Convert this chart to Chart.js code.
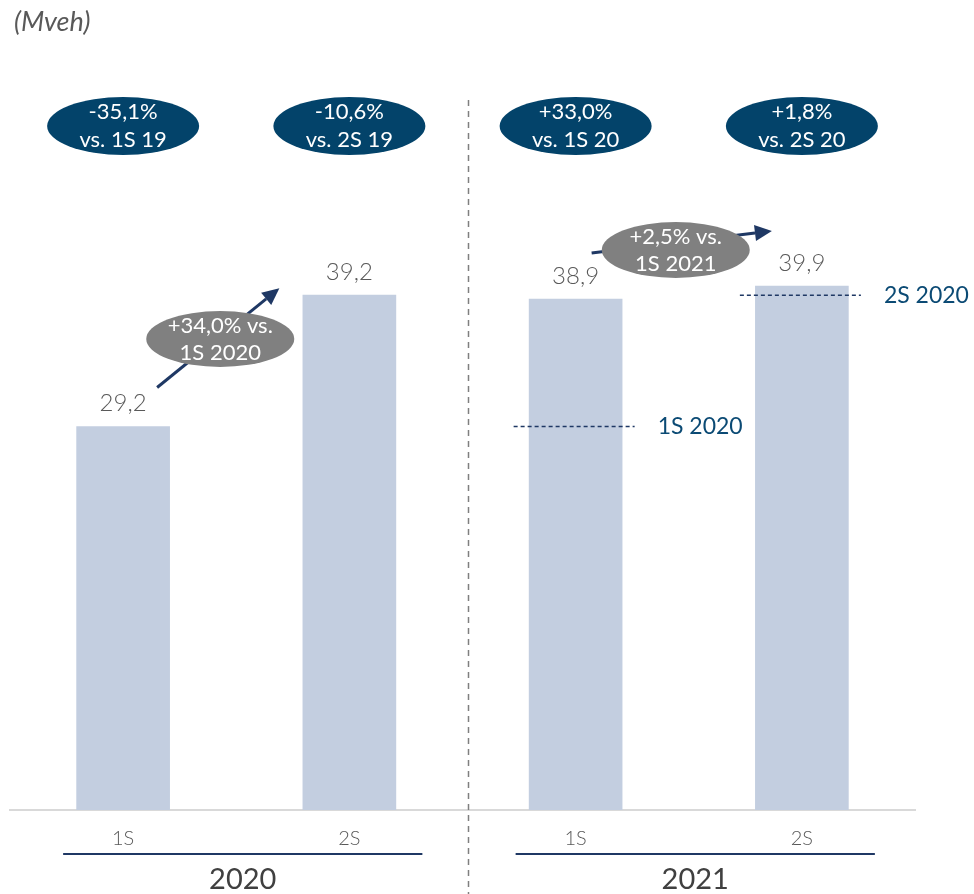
<!DOCTYPE html>
<html lang="es">
<head>
<meta charset="UTF-8">
<title>Mveh</title>
<style>
  body { margin: 0; background: #fff; }
  #wrap { position: relative; width: 974px; height: 894px; }
</style>
</head>
<body>
<div id="wrap"><canvas id="chart"></canvas></div>
<script src="https://cdn.jsdelivr.net/npm/chart.js"></script>
<script>
// datos
const semesters = ['1S', '2S', '1S', '2S'];
const years = ['2020', '2021'];
const volumes = [29.2, 39.2, 38.9, 39.9];
const vsPrevYear = ['-35,1%', '-10,6%', '+33,0%', '+1,8%'];
const vsPrevYearRef = ['vs. 1S 19', 'vs. 2S 19', 'vs. 1S 20', 'vs. 2S 20'];
const semGrowth = [['+34,0% vs.', '1S 2020'], ['+2,5% vs.', '1S 2021']];
const refLabels = ['1S 2020', '2S 2020'];

const FONT = 'Lato, "Open Sans", sans-serif';
const NAVY = '#1F3864';
const BLUE = '#03436A';

function fmt(v) { return v.toFixed(1).replace('.', ','); }

function ellipse(ctx, cx, cy, rx, ry, color, lines, lh) {
    ctx.save();
    ctx.fillStyle = color;
    ctx.beginPath();
    ctx.ellipse(cx, cy, rx, ry, 0, 0, Math.PI * 2);
    ctx.fill();
    ctx.fillStyle = '#fff';
    ctx.font = '22px ' + FONT;
    ctx.textAlign = 'center';
    ctx.textBaseline = 'middle';
    ctx.fillText(lines[0], cx, cy - lh / 2);
    ctx.fillText(lines[1], cx, cy + lh / 2);
    ctx.restore();
}

function arrow(ctx, x1, y1, x2, y2) {
    const a = Math.atan2(y2 - y1, x2 - x1);
    const len = 17, w = 8;
    ctx.save();
    ctx.strokeStyle = NAVY;
    ctx.fillStyle = NAVY;
    ctx.lineWidth = 3;
    ctx.beginPath();
    ctx.moveTo(x1, y1);
    ctx.lineTo(x2 - Math.cos(a) * len, y2 - Math.sin(a) * len);
    ctx.stroke();
    ctx.beginPath();
    ctx.moveTo(x2, y2);
    ctx.lineTo(x2 - Math.cos(a) * len - Math.sin(a) * w, y2 - Math.sin(a) * len + Math.cos(a) * w);
    ctx.lineTo(x2 - Math.cos(a) * len + Math.sin(a) * w, y2 - Math.sin(a) * len - Math.cos(a) * w);
    ctx.closePath();
    ctx.fill();
    ctx.restore();
}

const annotations = {
    id: 'annotations',
    afterDatasetsDraw(chart) {
        const ctx = chart.ctx;
        const bars = chart.getDatasetMeta(0).data;
        const y = chart.scales.y;

        // unidad
        ctx.save();
        ctx.fillStyle = '#595959';
        ctx.font = 'italic 27px ' + FONT;
        ctx.textBaseline = 'middle';
        ctx.fillText('(Mveh)', 14, 22);

        // separador entre años
        const sepX = (bars[1].x + bars[2].x) / 2 + 6;
        ctx.strokeStyle = '#7f7f7f';
        ctx.lineWidth = 1.5;
        ctx.setLineDash([6, 5]);
        ctx.beginPath();
        ctx.moveTo(sepX, 100);
        ctx.lineTo(sepX, 894);
        ctx.stroke();
        ctx.restore();

        // valores sobre las barras
        ctx.save();
        ctx.fillStyle = '#595959';
        ctx.font = '300 24px ' + FONT;
        ctx.textAlign = 'center';
        ctx.textBaseline = 'middle';
        bars.forEach((b, i) => ctx.fillText(fmt(volumes[i]), b.x, b.y - 23));
        ctx.restore();

        // variación vs año anterior
        bars.forEach((b, i) => ellipse(ctx, b.x, 126, 76, 29, BLUE, [vsPrevYear[i], vsPrevYearRef[i]], 28));

        // líneas de referencia 2020 sobre barras 2021
        ctx.save();
        ctx.strokeStyle = NAVY;
        ctx.lineWidth = 1.5;
        ctx.setLineDash([4, 3]);
        ctx.font = '23px ' + FONT;
        ctx.fillStyle = '#0B4A74';
        ctx.textBaseline = 'middle';
        [2, 3].forEach((k, j) => {
            const ry = y.getPixelForValue(volumes[k - 2]);
            ctx.beginPath();
            ctx.moveTo(bars[k].x - 62, ry);
            ctx.lineTo(bars[k].x + 59, ry);
            ctx.stroke();
            ctx.fillText(refLabels[j], bars[k].x + 82, ry);
        });
        ctx.restore();

        // crecimiento semestral
        arrow(ctx, bars[0].x + 34, bars[0].y - 39, bars[1].x - 70, bars[1].y - 7);
        ellipse(ctx, (bars[0].x + bars[1].x) / 2 - 16, 339, 74, 28, '#808080', semGrowth[0], 27);
        arrow(ctx, bars[2].x + 16, bars[2].y - 46, bars[3].x - 30, bars[3].y - 55);
        ellipse(ctx, (bars[2].x + bars[3].x) / 2 - 13, 250, 74, 28, '#808080', semGrowth[1], 27);

        // años
        ctx.save();
        years.forEach((yr, g) => {
            const x0 = bars[2 * g].x - 60, x1 = bars[2 * g + 1].x + 73;
            ctx.strokeStyle = NAVY;
            ctx.lineWidth = 2;
            ctx.beginPath();
            ctx.moveTo(x0, 854);
            ctx.lineTo(x1, 854);
            ctx.stroke();
            ctx.fillStyle = '#404040';
            ctx.font = '29px ' + FONT;
            ctx.textAlign = 'center';
            ctx.textBaseline = 'middle';
            ctx.fillText(yr, (x0 + x1) / 2, 880);
        });
        ctx.restore();
    }
};

new Chart(document.getElementById('chart'), {
    type: 'bar',
    data: {
        labels: semesters,
        datasets: [{
            data: volumes,
            backgroundColor: '#C3CEE0',
            barThickness: 93
        }]
    },
    options: {
        responsive: true,
        maintainAspectRatio: false,
        animation: false,
        layout: { padding: { left: 10, right: 59, top: 22, bottom: 0 } },
        plugins: { legend: { display: false }, tooltip: { enabled: false } },
        scales: {
            x: {
                grid: { display: false, drawTicks: false },
                border: { display: true, color: '#D9D9D9', width: 2 },
                ticks: { color: '#595959', font: { family: FONT, size: 20, weight: '300' }, padding: 17 },
                afterFit(scale) { scale.height = 84; }
            },
            y: { display: false, min: 0, max: 60 }
        }
    },
    plugins: [annotations]
});
</script>
</body>
</html>
